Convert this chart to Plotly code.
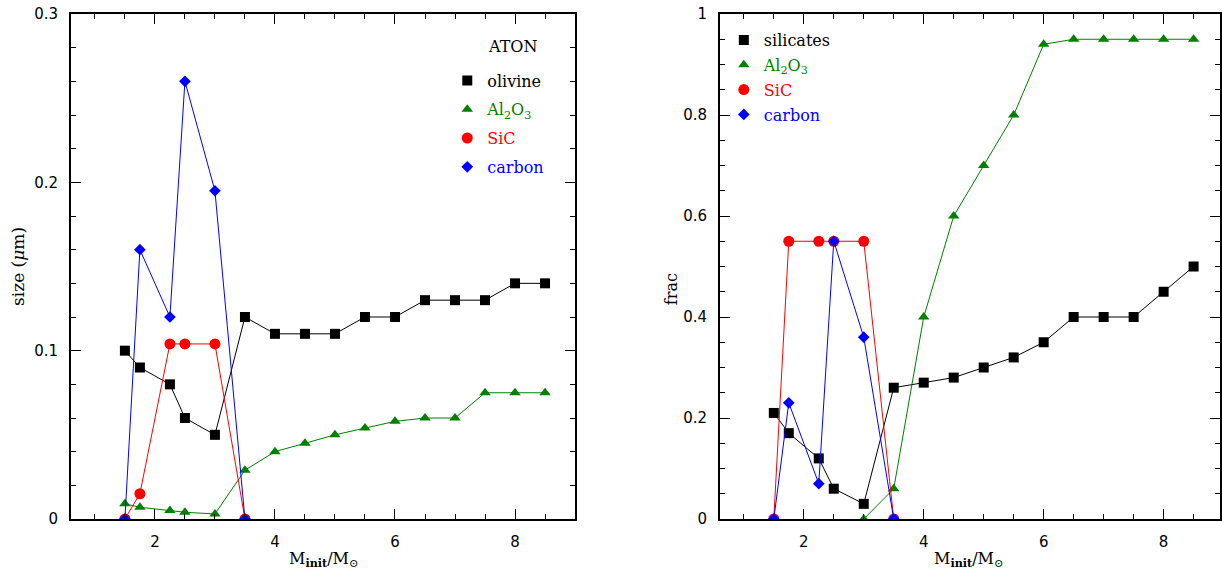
import plotly.graph_objects as go

# ---------------- data ----------------
mass_all = [1.5, 1.75, 2.25, 2.5, 3.0, 3.5, 4.0, 4.5, 5.0, 5.5, 6.0, 6.5, 7.0, 7.5, 8.0, 8.5]
mass_c = [1.5, 1.75, 2.25, 2.5, 3.0, 3.5]
mass_al_frac = [3.0, 3.5, 4.0, 4.5, 5.0, 5.5, 6.0, 6.5, 7.0, 7.5, 8.0, 8.5]

size_olivine = [0.100, 0.090, 0.080, 0.060, 0.050, 0.120, 0.110, 0.110, 0.110, 0.120,
                0.120, 0.130, 0.130, 0.130, 0.140, 0.140]
size_al2o3 = [0.009, 0.007, 0.005, 0.004, 0.003, 0.029, 0.040, 0.045, 0.050, 0.054,
              0.058, 0.060, 0.060, 0.075, 0.075, 0.075]
size_sic = [0.0, 0.015, 0.104, 0.104, 0.104, 0.0]
size_carbon = [0.0, 0.160, 0.120, 0.260, 0.195, 0.0]

frac_silicates = [0.21, 0.17, 0.12, 0.06, 0.03, 0.26, 0.27, 0.28, 0.30, 0.32,
                  0.35, 0.40, 0.40, 0.40, 0.45, 0.50]
frac_al2o3 = [0.0, 0.06, 0.40, 0.60, 0.70, 0.80, 0.94, 0.95, 0.95, 0.95, 0.95, 0.95]
frac_sic = [0.0, 0.55, 0.55, 0.55, 0.55, 0.0]
frac_carbon = [0.0, 0.23, 0.07, 0.55, 0.36, 0.0]

BLACK = "#000000"
GREEN = "#008000"
RED = "#ff0000"
BLUE = "#0000ff"

SERIF = "DejaVu Serif"
SANS = "DejaVu Sans"

SQ, TR, CI, DI = 10, 10, 11, 9

fig = go.Figure()


def add_series(xs, ys, color, symbol, size, xa, ya):
    fig.add_trace(go.Scatter(
        x=xs, y=ys, mode="lines+markers",
        line=dict(color=color, width=1),
        marker=dict(color=color, symbol=symbol, size=size, line=dict(width=0)),
        xaxis=xa, yaxis=ya, showlegend=False, hoverinfo="x+y"))


def add_legend(name, color, symbol, size, xa, ya, legend, group):
    fig.add_trace(go.Scatter(
        x=[None], y=[None], mode="markers",
        marker=dict(color=color, symbol=symbol, size=size, line=dict(width=0)),
        name=f'<span style="color:{color}">{name}</span>',
        xaxis=xa, yaxis=ya, legend=legend, legendgroup=group + legend,
        showlegend=True))


# left panel
add_series(mass_all, size_olivine, BLACK, "square", SQ, "x", "y")
add_series(mass_all, size_al2o3, GREEN, "triangle-up", TR, "x", "y")
add_series(mass_c, size_sic, RED, "circle", CI, "x", "y")
add_series(mass_c, size_carbon, BLUE, "diamond", DI, "x", "y")

# right panel
add_series(mass_all, frac_silicates, BLACK, "square", SQ, "x2", "y2")
add_series(mass_al_frac, frac_al2o3, GREEN, "triangle-up", TR, "x2", "y2")
add_series(mass_c, frac_sic, RED, "circle", CI, "x2", "y2")
add_series(mass_c, frac_carbon, BLUE, "diamond", DI, "x2", "y2")

# legends
add_legend("olivine", BLACK, "square", SQ, "x", "y", "legend", "a")
add_legend("Al<sub>2</sub>O<sub>3</sub>", GREEN, "triangle-up", TR, "x", "y", "legend", "b")
add_legend("SiC", RED, "circle", CI, "x", "y", "legend", "c")
add_legend("carbon", BLUE, "diamond", DI, "x", "y", "legend", "d")

add_legend("silicates", BLACK, "square", SQ, "x2", "y2", "legend2", "a")
add_legend("Al<sub>2</sub>O<sub>3</sub>", GREEN, "triangle-up", TR, "x2", "y2", "legend2", "b")
add_legend("SiC", RED, "circle", CI, "x2", "y2", "legend2", "c")
add_legend("carbon", BLUE, "diamond", DI, "x2", "y2", "legend2", "d")

W, H = 1222, 570

axis_common = dict(
    showline=True, linecolor="black", linewidth=1.5, mirror="ticks",
    ticks="inside", ticklen=10, tickwidth=1, tickcolor="black",
    showgrid=False, zeroline=False,
    tickfont=dict(family=SANS, size=15, color="black"),
    ticklabelstandoff=8,
)


def minor(dt):
    return dict(dtick=dt, tick0=0, ticks="inside", ticklen=5, tickwidth=1,
                tickcolor="black", showgrid=False)


fig.update_layout(
    width=W, height=H,
    margin=dict(l=0, r=0, t=14, b=51),
    paper_bgcolor="white", plot_bgcolor="white",
    xaxis=dict(domain=[71 / W, 576 / W], range=[0.6, 9.0], dtick=2, tick0=0,
               minor=minor(0.5), anchor="y", **axis_common),
    yaxis=dict(domain=[0, 1], range=[0, 0.3], dtick=0.1, tick0=0,
               minor=minor(0.02), anchor="x", **axis_common),
    xaxis2=dict(domain=[721 / W, 1.0], range=[0.6, 8.94], dtick=2, tick0=0,
                minor=minor(0.5), anchor="y2", **axis_common),
    yaxis2=dict(domain=[0, 1], range=[0, 1.0], dtick=0.2, tick0=0,
                minor=minor(0.05), anchor="x2", **axis_common),
    legend=dict(x=448 / W, y=0.902, xanchor="left", yanchor="top",
                bgcolor="rgba(0,0,0,0)", borderwidth=0,
                font=dict(family=SERIF, size=16, color="black"),
                tracegroupgap=5, itemsizing="trace"),
    legend2=dict(x=725 / W, y=0.982, xanchor="left", yanchor="top",
                 bgcolor="rgba(0,0,0,0)", borderwidth=0,
                 font=dict(family=SERIF, size=16, color="black"),
                 tracegroupgap=1, itemsizing="trace"),
    showlegend=True,
)

ann_font = dict(family=SERIF, size=16, color="black")
fig.add_annotation(text="ATON", x=487 / W, y=(519 - 47) / 505, xref="paper", yref="paper",
                   xanchor="left", yanchor="middle", showarrow=False, font=ann_font)
fig.add_annotation(text="size (<i>μ</i>m)", x=17.5 / W, y=0.5, xref="paper", yref="paper",
                   textangle=-90, xanchor="center", yanchor="middle", showarrow=False,
                   font=dict(family=SERIF, size=17, color="black"))
fig.add_annotation(text="frac", x=672 / W, y=0.455, xref="paper", yref="paper",
                   textangle=-90, xanchor="center", yanchor="middle", showarrow=False,
                   font=ann_font)
xt = "M<sub><b>init</b></sub>/M<sub>⊙</sub>"
fig.add_annotation(text=xt, x=324 / W, y=-0.08, xref="paper", yref="paper",
                   xanchor="center", yanchor="middle", showarrow=False, font=ann_font)
fig.add_annotation(text=xt, x=970 / W, y=-0.08, xref="paper", yref="paper",
                   xanchor="center", yanchor="middle", showarrow=False, font=ann_font)

fig.write_html("out.html", config={"displayModeBar": False},
               post_script="document.body.style.margin='0';document.body.style.overflow='hidden';")
